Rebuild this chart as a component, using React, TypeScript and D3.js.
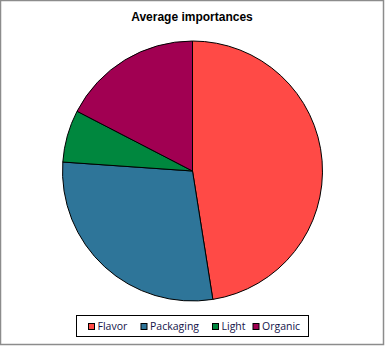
import React from "react";
import * as d3 from "d3";

const categories = ["Flavor", "Packaging", "Light", "Organic"];
const values = [47.5, 28.6, 6.5, 17.4];
const colors = ["#FF4A46", "#2E7599", "#00873E", "#A10052"];
const title = "Average importances";

const W = 385;
const H = 346;

export default function App() {
  const cx = 192.5;
  const cy = 171;
  const r = 130;
  const pie = d3.pie<number>().sort(null).value((d) => d)(values);
  const arc = d3.arc<d3.PieArcDatum<number>>().innerRadius(0).outerRadius(r);

  const legendX = 76.5;
  const legendY = 315.5;
  const legendW = 232;
  const legendH = 21;
  const itemX = [88, 140.5, 212, 252.5];

  return (
    <svg
      width={W}
      height={H}
      style={{ position: "absolute", left: 0, top: 0, background: "#fff" }}
    >
      <rect x={0.5} y={0.5} width={383} height={344} fill="#fff" stroke="#8c8c8c" strokeWidth={1.5} />
      <text
        x={192}
        y={21}
        textAnchor="middle"
        fontFamily="Liberation Sans, Arial, sans-serif"
        fontWeight="bold"
        fontSize={12}
        fill="#000"
      >
        {title}
      </text>
      <g transform={`translate(${cx},${cy})`}>
        {pie.map((p, i) => (
          <path key={categories[i]} d={arc(p) || ""} fill={colors[i]} stroke="#000" strokeWidth={1} strokeLinejoin="round" />
        ))}
      </g>
      <rect x={legendX} y={legendY} width={legendW} height={legendH} fill="#fff" stroke="#000" strokeWidth={1} />
      {categories.map((c, i) => (
        <g key={c}>
          <rect x={itemX[i] + 0.5} y={323.5} width={6} height={6} fill={colors[i]} stroke="#000" strokeWidth={1} />
          <text
            x={itemX[i] + 9.5}
            y={330}
            fontFamily="Open Sans, sans-serif"
            fontSize={10.5}
            fill="#14144a"
          >
            {c}
          </text>
        </g>
      ))}
    </svg>
  );
}
